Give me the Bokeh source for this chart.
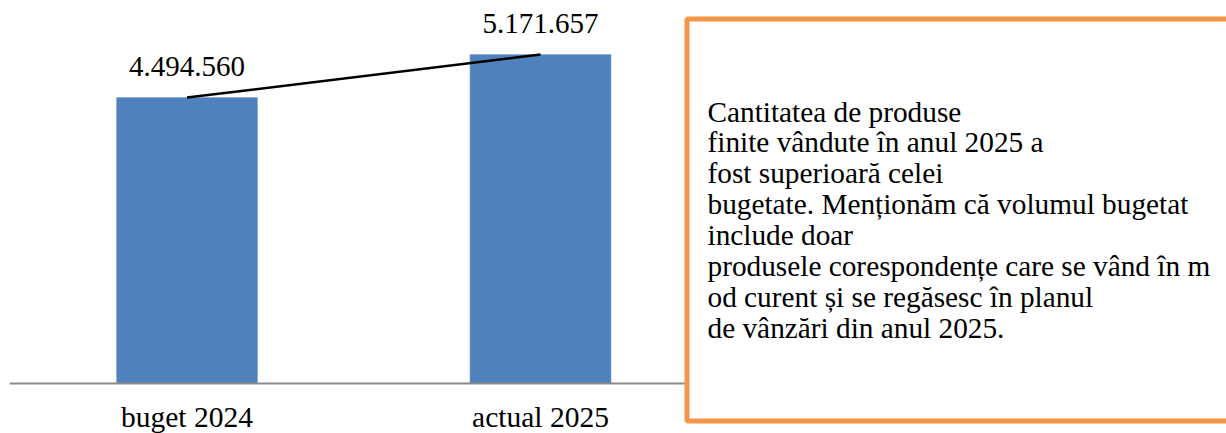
from bokeh.plotting import figure
from bokeh.models import Range1d, FixedTicker, BoxAnnotation, Label
from bokeh.core.properties import value
from bokeh.embed import file_html
from bokeh.resources import INLINE

# ---- data ----
categories = ["buget 2024", "actual 2025"]
values = [4494560, 5171657]
note_lines = [
    "Cantitatea  de produse",
    "finite vândute în anul 2025  a",
    "fost superioară celei",
    "bugetate. Menționăm că volumul bugetat",
    "include doar",
    "produsele corespondențe care se vând în m",
    "od curent și se regăsesc în planul",
    "de vânzări din anul 2025.",
]

# ---- layout constants (pixels in canvas) ----
W, H = 1226, 433
LEFT_PX = 9
AXIS_PY = 383.0
TOP_PY = 54.0
CAT0_PX, CAT_STEP = 186.5, 353.5
k = max(values) / (AXIS_PY - TOP_PY)

def xd(px):
    return (px - CAT0_PX) / CAT_STEP

def yd(py):
    return (AXIS_PY - py) * k

FONT = "Liberation Serif"

p = figure(width=W, height=H, output_backend="svg", toolbar_location=None,
           x_range=Range1d(xd(LEFT_PX), xd(W)), y_range=Range1d(yd(H), yd(0)),
           min_border=0, min_border_left=LEFT_PX, outline_line_color=None)
p.grid.visible = False
p.yaxis.visible = False
p.background_fill_color = "white"
p.border_fill_color = "white"

xs = list(range(len(categories)))
p.vbar(x=xs, top=values, width=141 / CAT_STEP, bottom=0, fill_color="#4F81BD",
       line_color="#7FA2D0", line_width=0.6)
p.line(x=xs, y=values, line_color="black", line_width=2.5)

labels_txt = [f"{v:,}".replace(",", ".") for v in values]
p.text(x=xs, y=values, text=labels_txt, text_align="center",
       text_baseline="alphabetic", y_offset=-31, text_font_size="29px",
       text_font=value(FONT), text_color="black")

ax = p.xaxis[0]
ax.fixed_location = 0
ax.ticker = FixedTicker(ticks=xs)
ax.major_label_overrides = {i: c for i, c in zip(xs, categories)}
ax.axis_line_color = "#8A8A8A"
ax.axis_line_width = 2
ax.major_tick_line_color = None
ax.minor_tick_line_color = None
ax.major_label_standoff = 11
ax.major_label_text_font = FONT
ax.major_label_text_font_size = "29.5px"
ax.major_label_text_color = "black"

box = BoxAnnotation(left=xd(686.5), right=xd(W + 30), top=yd(18.5), bottom=yd(420.5),
                    fill_color="white", fill_alpha=1.0,
                    line_color="#F79646", line_width=5, line_alpha=1.0)
p.add_layout(box)

BASE0, STEP = 111.0, 30.9
for i, line in enumerate(note_lines):
    lab = Label(x=xd(707), y=yd(BASE0 + i * STEP), text=line,
                text_font=FONT, text_font_size="29.3px", text_color="black",
                text_baseline="alphabetic", text_align="left", level="overlay")
    p.add_layout(lab)

open("out.html", "w").write(file_html(p, INLINE))
